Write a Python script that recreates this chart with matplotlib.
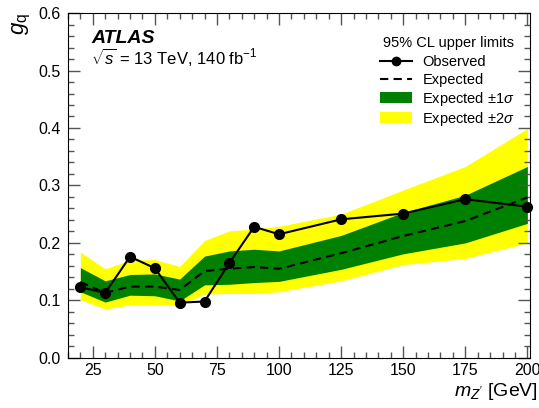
import matplotlib
matplotlib.use("Agg")
import matplotlib.pyplot as plt
from matplotlib.ticker import MultipleLocator
from matplotlib.lines import Line2D
from matplotlib.patches import Rectangle

plt.rcParams['font.family'] = ['Liberation Sans', 'DejaVu Sans']
plt.rcParams['mathtext.fontset'] = 'custom'
plt.rcParams['mathtext.rm'] = 'Liberation Sans'
plt.rcParams['mathtext.it'] = 'Liberation Sans:italic'

mass = [20, 30, 40, 50, 60, 70, 80, 90, 100, 125, 150, 175, 200]
observed = [0.123, 0.113, 0.176, 0.156, 0.096, 0.098, 0.165, 0.228, 0.215, 0.241, 0.251, 0.276, 0.263]
expected = [0.132, 0.113, 0.124, 0.124, 0.118, 0.151, 0.155, 0.158, 0.155, 0.182, 0.212, 0.238, 0.279]
one_sig_lo = [0.115, 0.097, 0.109, 0.108, 0.099, 0.127, 0.128, 0.131, 0.133, 0.154, 0.181, 0.200, 0.234]
one_sig_hi = [0.157, 0.134, 0.145, 0.146, 0.137, 0.177, 0.186, 0.189, 0.186, 0.213, 0.253, 0.283, 0.333]
two_sig_lo = [0.101, 0.085, 0.092, 0.092, 0.091, 0.111, 0.112, 0.112, 0.115, 0.134, 0.162, 0.173, 0.200]
two_sig_hi = [0.184, 0.155, 0.170, 0.171, 0.159, 0.204, 0.221, 0.224, 0.229, 0.250, 0.292, 0.333, 0.399]

legend_title = '95% CL upper limits'
legend_labels = ['Observed', 'Expected', r'Expected $\pm1\sigma$', r'Expected $\pm2\sigma$']

W, H = 539, 408
fig = plt.figure(figsize=(W / 100, H / 100), dpi=100)
ax = fig.add_axes([0.126, 0.123, 0.857, 0.845])

GREEN = '#008000'
YELLOW = '#ffff00'

ax.fill_between(mass, two_sig_lo, two_sig_hi, color=YELLOW, lw=0)
ax.fill_between(mass, one_sig_lo, one_sig_hi, color=GREEN, lw=0)
ax.plot(mass, expected, color='black', ls=(0, (4, 2.5)), lw=1.5)
ax.plot(mass, observed, color='black', lw=1.5, marker='o', ms=7, clip_on=False, zorder=5)

ax.set_xlim(15, 201)
ax.set_ylim(0, 0.6)
ax.xaxis.set_major_locator(MultipleLocator(25))
ax.xaxis.set_minor_locator(MultipleLocator(5))
ax.yaxis.set_major_locator(MultipleLocator(0.1))
ax.yaxis.set_minor_locator(MultipleLocator(0.02))
ax.yaxis.set_major_formatter(matplotlib.ticker.FormatStrFormatter('%.1f'))
ax.tick_params(which='both', direction='in', top=True, right=True, labelsize=11.5, color='#555555')
ax.tick_params(which='major', length=8.5, width=1)
ax.tick_params(which='minor', length=4, width=1)
ax.tick_params(axis='x', pad=4)
ax.tick_params(axis='y', pad=5)

ax.set_xlabel(r'$m_{Z^{\prime}}$ [GeV]', fontsize=14, ha='right')
ax.xaxis.set_label_coords(1.017, -0.066)
ax.set_ylabel(r'$g_{\mathrm{q}}$', fontsize=16, loc='top', labelpad=4)

ax.text(0.051, 0.926, 'ATLAS', transform=ax.transAxes, fontsize=14, fontweight='bold',
        fontstyle='italic', va='center')
ax.text(0.051, 0.873, r'$\sqrt{s}$ = 13 TeV, 140 fb$^{-1}$', transform=ax.transAxes,
        fontsize=12, va='center')

# manual legend (figure pixel layout)
def fx(px):
    return px / W

def fy(py):
    return 1 - py / H

fs = 10.5
fig.text(fx(448.5), fy(46.7), legend_title, fontsize=fs, ha='center', va='baseline')
baselines = [66, 84.3, 102.7, 122.7]
centers = [61, 79.3, 97.5, 117.5]
hx0, hx1, tx = 380, 411.7, 422.3
for lab, b in zip(legend_labels, baselines):
    fig.text(fx(tx), fy(b), lab, fontsize=fs, ha='left', va='baseline')
fig.add_artist(Line2D([fx(hx0), fx(hx1)], [fy(centers[0])] * 2, color='black', lw=1.5,
                      transform=fig.transFigure))
fig.add_artist(Line2D([fx((hx0 + hx1) / 2)], [fy(centers[0])], color='black', marker='o', ms=6,
                      transform=fig.transFigure))
fig.add_artist(Line2D([fx(hx0), fx(hx1)], [fy(centers[1])] * 2, color='black', lw=1.5,
                      ls=(0, (4, 2.5)), transform=fig.transFigure))
for c, col in zip(centers[2:], [GREEN, YELLOW]):
    fig.add_artist(Rectangle((fx(hx0), fy(c + 5.2)), fx(hx1) - fx(hx0), 10.4 / H,
                             color=col, lw=0, transform=fig.transFigure))

fig.savefig('out.png', dpi=100)
